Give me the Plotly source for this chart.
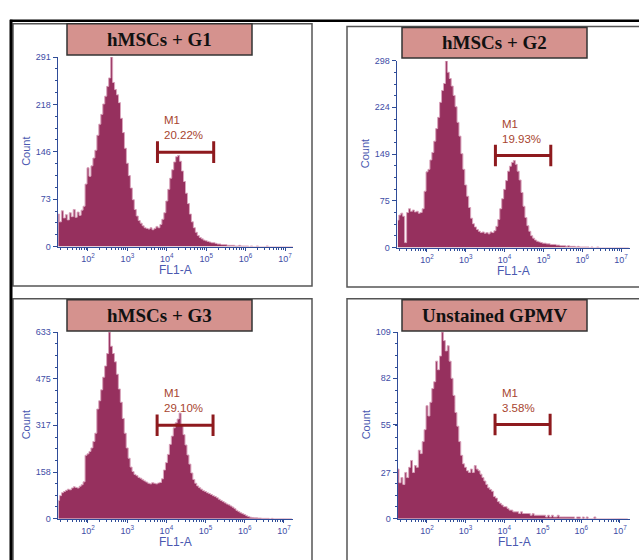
import numpy as np
import plotly.graph_objects as go

# ---------------- DATA ----------------
# FL1-A channel grid: log10 fluorescence, 0.05-decade bins (1.25 .. 7.20)
fl1_log = np.round(np.arange(1.25, 7.2001, 0.05), 2)

counts_g1 = [
    50, 38, 55, 44, 49, 41, 52, 46, 57, 45,
    53, 48, 56, 62, 96, 121, 108, 124, 136, 148,
    171, 188, 203, 219, 231, 246, 259, 291, 252, 241,
    233, 221, 197, 175, 151, 128, 109, 90, 72, 57,
    47, 40, 36, 32, 29, 28, 27, 29, 26, 28,
    31, 29, 34, 42, 52, 70, 88, 105, 118, 130,
    138, 140, 131, 116, 100, 82, 66, 50, 38, 29,
    22, 17, 14, 12, 10, 9, 8, 7, 6, 6,
    5, 4, 4, 3, 3, 3, 2, 2, 2, 2,
    1, 1, 2, 1, 1, 1, 1, 0, 1, 0,
    0, 1, 0, 0, 0, 0, 1, 0, 0, 0,
    0, 0, 0, 0, 0, 0, 0, 0, 0, 0,
]
counts_g2 = [
    44, 52, 55, 50, 8, 56, 62, 58, 60, 57,
    58, 55, 56, 62, 90, 121, 125, 140, 152, 170,
    190, 208, 232, 251, 262, 298, 280, 270, 258, 243,
    225, 200, 178, 150, 125, 100, 82, 64, 47, 38,
    33, 29, 26, 24, 25, 23, 24, 22, 25, 24,
    27, 34, 45, 62, 78, 93, 107, 122, 130, 136,
    139, 133, 122, 108, 88, 66, 48, 35, 26, 19,
    15, 12, 10, 9, 8, 7, 7, 6, 6, 5,
    5, 5, 4, 4, 3, 3, 3, 2, 3, 2,
    2, 2, 1, 2, 1, 1, 1, 1, 1, 0,
    1, 0, 0, 1, 0, 0, 0, 0, 0, 0,
    0, 0, 0, 0, 0, 0, 0, 0, 0, 0,
]
counts_g3 = [
    62, 78, 88, 92, 96, 100, 98, 104, 108, 106,
    104, 110, 115, 125, 215, 220, 228, 240, 262, 290,
    372, 400, 437, 480, 518, 560, 633, 585, 560, 532,
    490, 440, 395, 340, 290, 240, 205, 175, 160, 150,
    146, 140, 137, 132, 128, 124, 120, 118, 122, 120,
    118, 121, 123, 135, 165, 190, 218, 252, 280, 308,
    325, 338, 358, 318, 285, 250, 216, 185, 155, 133,
    120, 111, 105, 100, 95, 92, 88, 85, 82, 78,
    75, 71, 66, 62, 58, 54, 50, 47, 43, 39,
    34, 28, 24, 20, 17, 14, 10, 7, 5, 4,
    3, 3, 2, 2, 1, 1, 1, 1, 0, 1,
    0, 0, 0, 0, 0, 0, 0, 0, 0, 0,
]
counts_unstained = [
    29, 21, 24, 20, 27, 24, 30, 34, 27, 31,
    30, 40, 38, 45, 52, 66, 60, 68, 76, 80,
    92, 87, 95, 109, 104, 98, 101, 92, 82, 72,
    62, 54, 45, 37, 32, 30, 28, 27, 29, 27,
    31, 29, 28, 26, 24, 22, 20, 18, 17, 16,
    13, 12, 10, 9, 8, 7, 7, 6, 5, 5,
    4, 4, 4, 3, 4, 3, 3, 3, 3, 2,
    3, 2, 2, 2, 2, 2, 2, 1, 2, 1,
    2, 1, 1, 2, 1, 1, 1, 1, 1, 1,
    1, 1, 0, 1, 1, 0, 1, 0, 1, 0,
    0, 0, 1, 0, 0, 0, 0, 0, 0, 0,
    0, 0, 0, 0, 0, 0, 0, 0, 0, 0,
]

titles = ["hMSCs + G1", "hMSCs + G2", "hMSCs + G3", "Unstained GPMV"]
m1_pct = ["20.22%", "19.93%", "29.10%", "3.58%"]
m1_gate = [5800, 155000]
m1_level = [145, 147, 317, 55]
y_max = [291, 298, 633, 109]
y_ticks = [[0, 73, 146, 218, 291], [0, 75, 149, 224, 298],
           [0, 158, 317, 475, 633], [0, 27, 55, 82, 109]]
x_tick_vals = [1e2, 1e3, 1e4, 1e5, 1e6, 1e7]
x_tick_text = ["10<sup>2</sup>", "10<sup>3</sup>", "10<sup>4</sup>",
               "10<sup>5</sup>", "10<sup>6</sup>", "10<sup>7</sup>"]
all_counts = [counts_g1, counts_g2, counts_g3, counts_unstained]
for c in all_counts:
    assert len(c) == len(fl1_log)

# ---------------- LAYOUT GEOMETRY (page pixels) ----------------
W, H = 639, 560
def px(x): return x / W
def py(y): return 1 - y / H

panels = [
    dict(plot=(58, 293, 53, 246), xr=(1.239, 7.203), box=(13, 312, 19, 286), title=(67, 252, 19, 51)),
    dict(plot=(397, 630, 57, 247), xr=(1.227, 7.232), box=(347, 660, 22, 287), title=(402, 587, 23, 54)),
    dict(plot=(58, 293, 333, 523), xr=(1.235, 7.23), box=(13, 312, 299, 600), title=(67, 252, 300, 332)),
    dict(plot=(398, 630, 333, 523), xr=(1.249, 7.26), box=(347, 660, 299, 600), title=(402, 587, 300, 332)),
]

FILL = "#96305E"
EDGE = "#D9A3BB"
AXIS = "#2F4C98"
LABEL = "#3E4CA6"
M1C = "#8E1A1E"
M1T = "#A8452F"
SANS = "Liberation Sans, Arial, sans-serif"

fig = go.Figure()
shapes, annotations = [], []
layout_axes = {}

for i, p in enumerate(panels):
    n = i + 1
    xa = "x" if n == 1 else f"x{n}"
    ya = "y" if n == 1 else f"y{n}"
    xkey = "xaxis" if n == 1 else f"xaxis{n}"
    ykey = "yaxis" if n == 1 else f"yaxis{n}"
    x0, x1, yt, yb = p["plot"]
    ymax = y_max[i]

    fig.add_trace(go.Scatter(
        x=10 ** fl1_log, y=all_counts[i], mode="lines", line_shape="hvh",
        fill="tozeroy", fillcolor=FILL, line=dict(color=EDGE, width=1),
        xaxis=xa, yaxis=ya, showlegend=False, hoverinfo="skip"))

    # M1 gate marker
    lo, hi = m1_gate
    lev = m1_level[i]
    cap = ymax * 11 / (yb - yt)
    fig.add_trace(go.Scatter(
        x=[lo, hi, None, lo, lo, None, hi, hi],
        y=[lev, lev, None, lev - cap, lev + cap, None, lev - cap, lev + cap],
        mode="lines", line=dict(color=M1C, width=3), xaxis=xa, yaxis=ya,
        showlegend=False, hoverinfo="skip"))
    annotations.append(dict(x=np.log10(lo), y=lev, xref=xa, yref=ya,
                            text="M1<br>" + m1_pct[i],
                            showarrow=False, xanchor="left", yanchor="bottom", align="left",
                            xshift=6, yshift=10, borderpad=0,
                            font=dict(family=SANS, size=11.5, color=M1T)))

    layout_axes[xkey] = dict(
        type="log", range=list(p["xr"]), domain=[px(x0), px(x1)], anchor=ya,
        tickmode="array", tickvals=x_tick_vals, ticktext=x_tick_text,
        showline=True, linecolor=AXIS, linewidth=1.5, showgrid=False, zeroline=False,
        ticks="outside", ticklen=3, tickcolor=AXIS,
        tickfont=dict(family=SANS, size=9, color=LABEL),
        minor=dict(ticks="outside", ticklen=2, dtick="D1", tickcolor=AXIS, showgrid=False),
        fixedrange=True)
    layout_axes[ykey] = dict(
        range=[0, ymax], domain=[py(yb), py(yt)], anchor=xa,
        tickmode="array", tickvals=y_ticks[i], ticktext=[str(v) for v in y_ticks[i]],
        showline=True, linecolor=AXIS, linewidth=1.5, showgrid=False, zeroline=False,
        ticks="outside", ticklen=4, tickcolor=AXIS,
        tickfont=dict(family=SANS, size=9, color=LABEL),
        minor=dict(ticks="outside", ticklen=2, dtick=ymax / 16, tickcolor=AXIS, showgrid=False),
        fixedrange=True)

    # axis titles
    annotations.append(dict(x=px(x0 - 32), y=py((yt + yb) / 2), xref="paper", yref="paper",
                            text="Count", textangle=-90, showarrow=False,
                            xanchor="center", yanchor="middle",
                            font=dict(family=SANS, size=11, color="#4A58B0")))
    annotations.append(dict(x=px((x0 + x1) / 2), y=py(yb + 24), xref="paper", yref="paper",
                            text="FL1-A", showarrow=False, xanchor="center", yanchor="middle",
                            font=dict(family=SANS, size=12, color="#4A58B0")))

    # panel box
    bx0, bx1, by0, by1 = p["box"]
    shapes.append(dict(type="rect", xref="paper", yref="paper",
                       x0=px(bx0), x1=px(bx1), y0=py(by1), y1=py(by0),
                       line=dict(color="#555555", width=1.5), fillcolor="rgba(0,0,0,0)",
                       layer="below"))
    # title box
    tx0, tx1, ty0, ty1 = p["title"]
    shapes.append(dict(type="rect", xref="paper", yref="paper",
                       x0=px(tx0), x1=px(tx1), y0=py(ty1), y1=py(ty0),
                       line=dict(color="#333333", width=1.5), fillcolor="#D5928E"))
    annotations.append(dict(x=px((tx0 + tx1) / 2), y=py((ty0 + ty1) / 2), xref="paper", yref="paper",
                            text="<b>" + titles[i] + "</b>", showarrow=False,
                            xanchor="center", yanchor="middle",
                            font=dict(family="Liberation Serif, Times New Roman, serif", size=19, color="#111111")))

# black outer frame lines
shapes.append(dict(type="line", xref="paper", yref="paper", x0=px(10), x1=px(660), y0=py(16), y1=py(16),
                   line=dict(color="#000000", width=2.5)))
shapes.append(dict(type="line", xref="paper", yref="paper", x0=px(11), x1=px(11), y0=py(15), y1=py(600),
                   line=dict(color="#000000", width=3)))

fig.update_layout(
    width=W, height=H, margin=dict(l=0, r=0, t=0, b=0),
    paper_bgcolor="white", plot_bgcolor="rgba(0,0,0,0)",
    shapes=shapes, annotations=annotations, showlegend=False,
    **layout_axes)

# remove the default page margin so the figure sits at the window's top-left corner
fig.write_html("out.html", config={"displayModeBar": False, "staticPlot": True},
               post_script="document.body.style.margin='0';document.body.style.overflow='hidden';")
